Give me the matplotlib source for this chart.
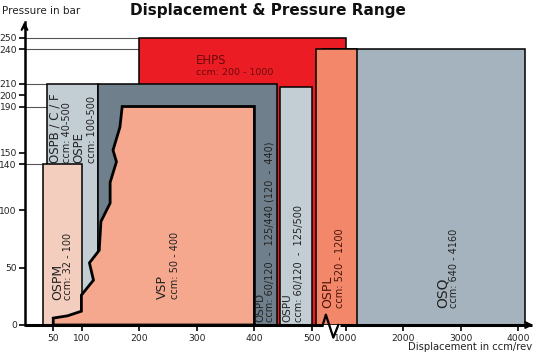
"""
Displacement & pressure range chart of the steering units (schematic, broken x axis).
"""

import matplotlib
matplotlib.use("Agg")
import matplotlib.pyplot as plt
from matplotlib.patches import Rectangle, Polygon
import numpy as np

# ---- data -------------------------------------------------------------------
# boxes: (name, x_from, x_to, top pressure)
box_names = ["EHPS", "OSQ", "OSPL", "OSPB", "OSPD", "OSPU", "OSPM"]
box_x0 = [200, 640, 520, 40, 128, 445, 32]
box_x1 = [1000, 4120, 1200, 128, 440, 500, 100]
box_top = [250, 240, 240, 210, 210, 207, 140]
box_colors = ["#EC1C24", "#A4B3BD", "#F2876A", "#C3CDD4", "#6F808C", "#C3CDD4", "#F3CDBD"]

# VSP outline (left edge is stepped)
vsp_x = [50, 50, 75, 99, 99, 120, 113, 130, 133, 149, 149, 160, 154, 166, 170, 400, 400]
vsp_y = [0, 6, 8, 12, 26, 39, 54, 65, 90, 106, 124, 142, 152, 172, 190, 190, 0]

y_ticks = [0, 50, 100, 140, 150, 190, 200, 210, 240, 250]
x_ticks = [50, 100, 200, 300, 400, 500, 1000, 2000, 3000, 4000]

# guide lines: pressure level and where they stop
guide_y = [250, 240, 210, 190, 140]
guide_xend = [200, 200, 40, 170, 32]

# ---- broken x scale ----------------------------------------------------------
XP = [0, 500, 520, 1000, 4300]
UP = [0, 5.0, 5.07, 5.59, 8.89]


def fwd(x):
    return np.interp(x, XP, UP)


def inv(u):
    return np.interp(u, UP, XP)


def px2ccm(px):
    # horizontal picture position -> displacement on the broken scale
    return float(inv((px - 24.5) / 57.5))


fig = plt.figure(figsize=(5.35, 3.54), dpi=100)
ax = fig.add_axes([24.5 / 535, 29 / 354, 507.5 / 535, 303 / 354])
ax.set_xscale("function", functions=(fwd, inv))
ax.set_xlim(0, 4240)
ax.set_ylim(0, 263.5)

for y, xe in zip(guide_y, guide_xend):
    ax.plot([0, xe], [y, y], color="#555555", lw=0.8, zorder=0.5)

for i, name in enumerate(box_names):
    ax.add_patch(Rectangle((box_x0[i], 0), box_x1[i] - box_x0[i], box_top[i],
                           facecolor=box_colors[i], edgecolor="black", lw=1.1,
                           zorder=1 + i * 0.1))

ax.add_patch(Polygon(np.column_stack([vsp_x, vsp_y]), closed=True,
                     facecolor="#F6A88F", edgecolor="black", lw=2, zorder=3))

# ---- labels -----------------------------------------------------------------
txt = dict(rotation=90, ha="center", va="bottom", color="#222222", zorder=5)
ax.text(57, 22, "OSPM", fontsize=9, **txt)
ax.text(76, 22, "ccm: 32 - 100", fontsize=7, **txt)
ax.text(53, 141, "OSPB / C / F", fontsize=8.5, **txt)
ax.text(74, 141, "ccm: 40-500", fontsize=7, **txt)
ax.text(95, 141, "OSPE", fontsize=8.5, **txt)
ax.text(117, 141, "ccm: 100-500", fontsize=7, **txt)
ax.text(240, 23, "VSP", fontsize=9, **txt)
ax.text(262, 23, "ccm: 50 - 400", fontsize=7, **txt)
ax.text(411, 3, "OSPD", fontsize=7.5, **txt)
ax.text(427, 3, "ccm: 60/120  -  125/440 (120  -  440)", fontsize=7, **txt)
ax.text(458, 3, "OSPU", fontsize=7.5, **txt)
ax.text(477, 3, "ccm: 60/120  -  125/500", fontsize=7, **txt)
ax.text(px2ccm(328), 15, "OSPL", fontsize=9, **{**txt, "color": "#4a1208"})
ax.text(px2ccm(340), 15, "ccm: 520 - 1200", fontsize=7, **{**txt, "color": "#4a1208"})
ax.text(px2ccm(443), 15, "OSQ", fontsize=10, **txt)
ax.text(px2ccm(454), 15, "ccm: 640 - 4160", fontsize=7, **txt)
ax.text(299, 230, "EHPS", fontsize=8.5, color="#6b0a0a", va="center", zorder=5)
ax.text(299, 220, "ccm: 200 - 1000", fontsize=6.8, color="#6b0a0a", va="center", zorder=5)

# ---- axes -------------------------------------------------------------------
for s in ["top", "right", "bottom"]:
    ax.spines[s].set_visible(False)
ax.spines["left"].set_linewidth(1.8)
ax.set_yticks(y_ticks)
ax.set_xticks(x_ticks)
ax.set_xticklabels([str(v) for v in x_ticks])
ax.tick_params(axis="both", labelsize=6.6, length=4, width=1.2, colors="black",
               labelcolor="#222222")
ax.tick_params(axis="y", pad=1.5)
ax.tick_params(axis="x", pad=2.5)
ax.minorticks_off()

# bottom axis with break
ax.plot([0, 630], [0, 0], color="black", lw=2.2, clip_on=False, zorder=6,
        solid_capstyle="butt")
ax.plot([630, 680, 800, 880], [0, 9, -11, 0], color="black", lw=1.6,
        clip_on=False, zorder=6)
ax.plot([900, 4240], [0, 0], color="black", lw=2.2, clip_on=False, zorder=6,
        solid_capstyle="butt")
ax.annotate("", xy=(1.008, 0), xytext=(0.98, 0), xycoords="axes fraction",
            arrowprops=dict(arrowstyle="->", lw=1.6, color="black"))
ax.annotate("", xy=(0, 1.01), xytext=(0, 0.97), xycoords="axes fraction",
            arrowprops=dict(arrowstyle="->", lw=1.6, color="black"))

fig.text(2 / 535, 1 - 11 / 354, "Pressure in bar", fontsize=7.5, va="center",
         color="#222222")
fig.text(532 / 535, 1.5 / 354, "Displacement in ccm/rev", fontsize=7.2,
         va="bottom", ha="right", color="#222222")
fig.text(268 / 535, 1 - 11 / 354, "Displacement & Pressure Range", fontsize=11,
         fontweight="bold", ha="center", va="center", color="#111111")

fig.savefig("out.png", dpi=100)
